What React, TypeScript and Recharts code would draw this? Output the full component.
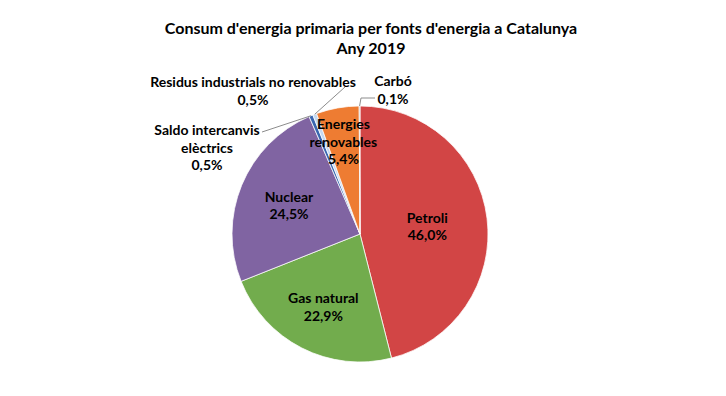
import { PieChart, Pie, Cell } from "recharts";

const NAMES = [
  "Petroli",
  "Gas natural",
  "Nuclear",
  "Saldo intercanvis elèctrics",
  "Residus industrials no renovables",
  "Energies renovables",
  "Carbó",
];
const VALUES = [46.0, 22.9, 24.5, 0.5, 0.5, 5.4, 0.1];
const COLORS = ["#D24545", "#72AC4D", "#8064A2", "#3A67B0", "#C5D9F1", "#EE7C32", "#A5A5A5"];
// label text lines (before the percentage)
const LABEL_LINES = [
  ["Petroli"],
  ["Gas natural"],
  ["Nuclear"],
  ["Saldo intercanvis", "elèctrics"],
  ["Residus industrials no renovables"],
  ["Energies", "renovables"],
  ["Carbó"],
];

const data = NAMES.map((name, i) => ({ name, value: VALUES[i], fill: COLORS[i] }));
const fmt = (v: number) => v.toFixed(1).replace(".", ",") + "%";

// inside labels: fraction of radius; outside labels: text anchor + leader points relative to center
const INSIDE = [0.53, 0.63, 0.6, -1, -1, 0.74, -1];
const OUTSIDE: Record<number, { tx: number; ty: number; ex: number; ey: number; lx: number; ly: number }> = {
  3: { tx: -153, ty: -105, ex: -98, ey: -102, lx: -98, ly: -102 },
  4: { tx: -107, ty: -153, ex: -15, ey: -147, lx: -15, ly: -147 },
  6: { tx: 33, ty: -154, ex: 1, ey: -136, lx: 15, ly: -136 },
};

const RAD = Math.PI / 180;
const FONT = "Lato, 'Open Sans', sans-serif";

function renderLabel(p: any) {
  const { cx, cy, midAngle, outerRadius, index } = p;
  const lines = [...LABEL_LINES[index], fmt(VALUES[index])];
  const lh = 17.5;
  if (INSIDE[index] > 0) {
    const r = outerRadius * INSIDE[index];
    const x = cx + r * Math.cos(-midAngle * RAD);
    const y = cy + r * Math.sin(-midAngle * RAD);
    const y0 = y - ((lines.length - 1) * lh) / 2;
    return (
      <text x={x} y={y0} textAnchor="middle" dominantBaseline="central" fontFamily={FONT} fontWeight="bold" fontSize={14} fill="#000">
        {lines.map((l, i) => (
          <tspan key={i} x={x} y={y0 + i * lh}>{l}</tspan>
        ))}
      </text>
    );
  }
  const o = OUTSIDE[index];
  const px = cx + outerRadius * Math.cos(-midAngle * RAD);
  const py = cy + outerRadius * Math.sin(-midAngle * RAD);
  const x = cx + o.tx;
  const y0 = cy + o.ty;
  return (
    <g>
      <polyline
        points={`${px},${py} ${cx + o.ex},${cy + o.ey} ${cx + o.lx},${cy + o.ly}`}
        fill="none"
        stroke="#8c8c8c"
        strokeWidth={1}
      />
      <text x={x} y={y0} textAnchor="middle" dominantBaseline="central" fontFamily={FONT} fontWeight="bold" fontSize={14} fill="#000">
        {lines.map((l, i) => (
          <tspan key={i} x={x} y={y0 + i * lh}>{l}</tspan>
        ))}
      </text>
    </g>
  );
}

export default function App() {
  return (
    <div style={{ position: "absolute", left: 0, top: 0, width: 726, height: 396, background: "#fff" }}>
      <div
        style={{
          position: "absolute",
          left: 0,
          top: 18,
          width: 742,
          textAlign: "center",
          fontFamily: FONT,
          fontWeight: "bold",
          fontSize: 16,
          lineHeight: "20px",
          color: "#000",
        }}
      >
        <div>Consum d'energia primaria per fonts d'energia a Catalunya</div>
        <div>Any 2019</div>
      </div>
      <PieChart width={726} height={396} margin={{ top: 0, right: 0, bottom: 0, left: 0 }}>
        <Pie
          data={data}
          dataKey="value"
          nameKey="name"
          cx={360}
          cy={234}
          outerRadius={128}
          startAngle={90}
          endAngle={-270}
          stroke="#fff"
          strokeWidth={0.75}
          label={renderLabel}
          labelLine={false}
          isAnimationActive={false}
        >
          {data.map((d, i) => (
            <Cell key={i} fill={d.fill} />
          ))}
        </Pie>
      </PieChart>
    </div>
  );
}
